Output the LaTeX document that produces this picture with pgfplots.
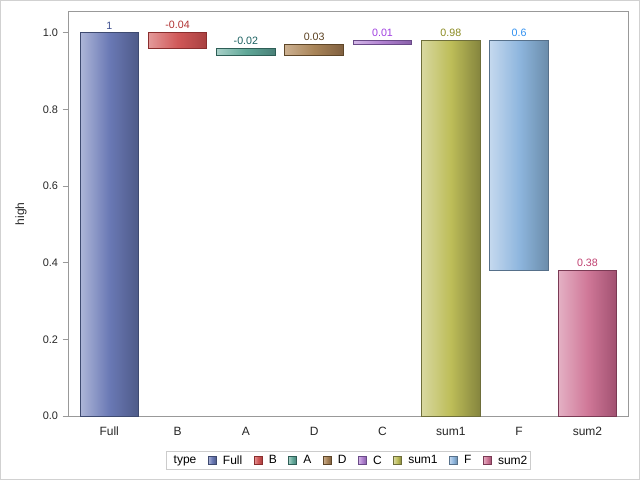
\documentclass[border=0pt]{standalone}
\usepackage{pgfplots}
\pgfplotsset{compat=1.18}
\usepackage{fontspec}
\setmainfont{Liberation Sans}

\definecolor{fullE}{HTML}{3E4A70}\definecolor{fullL}{HTML}{AEB6D8}\definecolor{fullM}{HTML}{6A79B5}\definecolor{fullR}{HTML}{4E5A88}\definecolor{fullT}{HTML}{3D4F8F}
\definecolor{bE}{HTML}{8A2E2E}\definecolor{bL}{HTML}{E39A9A}\definecolor{bM}{HTML}{D05858}\definecolor{bR}{HTML}{A84040}\definecolor{bT}{HTML}{B03030}
\definecolor{aE}{HTML}{2E5E56}\definecolor{aL}{HTML}{A8D0C8}\definecolor{aM}{HTML}{60A898}\definecolor{aR}{HTML}{4A8078}\definecolor{aT}{HTML}{1A6060}
\definecolor{dE}{HTML}{5E4628}\definecolor{dL}{HTML}{CCB090}\definecolor{dM}{HTML}{A88458}\definecolor{dR}{HTML}{806040}\definecolor{dT}{HTML}{5A4020}
\definecolor{cE}{HTML}{6A4A88}\definecolor{cL}{HTML}{D4B8E8}\definecolor{cM}{HTML}{B080D0}\definecolor{cR}{HTML}{8860A8}\definecolor{cT}{HTML}{A040E0}
\definecolor{sE}{HTML}{6E6E3A}\definecolor{sL}{HTML}{D8D8A0}\definecolor{sM}{HTML}{BDBD58}\definecolor{sR}{HTML}{85853E}\definecolor{sT}{HTML}{8A8A20}
\definecolor{fE}{HTML}{56708A}\definecolor{fL}{HTML}{C4D8EE}\definecolor{fM}{HTML}{8EB6DE}\definecolor{fR}{HTML}{6A8CAA}\definecolor{fT}{HTML}{3090F0}
\definecolor{tE}{HTML}{7A3A54}\definecolor{tL}{HTML}{E4B0C4}\definecolor{tM}{HTML}{D07898}\definecolor{tR}{HTML}{A05070}\definecolor{tT}{HTML}{C04070}

\pgfplotsset{
  wbar/.style={draw=#1E, line width=0.75pt, left color=#1L, right color=#1R, middle color=#1M,
    legend image code/.code={\draw[##1, line width=0.5pt] (0pt,-2.4pt) rectangle (6pt,3.6pt);}},
  wlab/.style={forget plot, draw=none, mark=none, nodes near coords, point meta=explicit symbolic,
    nodes near coords style={text=#1T, font=\fontsize{8}{9}\selectfont, anchor=south, inner sep=2.5pt}},
}

\begin{document}
\begin{tikzpicture}
\path[use as bounding box] (-51.5pt,-47.85pt) rectangle (428.5pt,312.15pt);
\draw[black!18, line width=0.75pt] (-51.125pt,-47.475pt) rectangle (428.125pt,311.775pt);
\begin{axis}[
  at={(0pt,0pt)}, anchor=south west,
  scale only axis, width=420pt, height=303.7pt,
  xmin=-0.594, xmax=7.603, ymin=0, ymax=1.0558,
  xtick={0,1,2,3,4,5,6,7},
  xticklabels={Full,B,A,D,C,sum1,F,sum2},
  ytick={0,0.2,0.4,0.6,0.8,1.0},
  /pgf/number format/assume math mode=true,
  xticklabel style={font=\fontsize{9}{10}\selectfont, text=black!85, anchor=north,
    text height=6.6pt, text depth=1.9pt, inner sep=0pt, yshift=-3.5pt},
  yticklabel style={font=\fontsize{8.2}{10}\selectfont, text=black!85,
    /pgf/number format/.cd, fixed, fixed zerofill, precision=1},
  xtick style={draw=none},
  ytick style={color=black!40, line width=0.75pt},
  tick align=outside, major tick length=4.5pt, ytick pos=left,
  axis line style={color=black!40, line width=0.75pt},
  ylabel={high},
  every axis y label/.style={at={(axis description cs:-0.085,0.5)}, rotate=90, anchor=center,
    font=\fontsize{9}{10}\selectfont, text=black!85},
  legend columns=9,
  legend style={at={(0.5,-0.0865)}, anchor=north, draw=black!20, line width=0.75pt,
    font=\fontsize{9}{10}\selectfont, inner xsep=0.5pt, inner ysep=0.8pt,
    /tikz/every even column/.style={column sep=6.6pt},
    /tikz/every odd column/.style={column sep=2.8pt}},
  clip=false,
]
\addlegendimage{empty legend}\addlegendentry{type\hspace{11pt}}
% Full: 0 -> 1
\addplot[wbar=full] coordinates {(-0.428,0) (0.428,0) (0.428,1) (-0.428,1)} -- cycle;
\addlegendentry{Full}
% B: 1 -> 0.96
\addplot[wbar=b] coordinates {(0.572,0.96) (1.428,0.96) (1.428,1) (0.572,1)} -- cycle;
\addlegendentry{B}
% A: 0.96 -> 0.94
\addplot[wbar=a] coordinates {(1.572,0.94) (2.428,0.94) (2.428,0.96) (1.572,0.96)} -- cycle;
\addlegendentry{A}
% D: 0.94 -> 0.97
\addplot[wbar=d] coordinates {(2.572,0.94) (3.428,0.94) (3.428,0.97) (2.572,0.97)} -- cycle;
\addlegendentry{D}
% C: 0.97 -> 0.98
\addplot[wbar=c] coordinates {(3.572,0.97) (4.428,0.97) (4.428,0.98) (3.572,0.98)} -- cycle;
\addlegendentry{C}
% sum1: 0 -> 0.98
\addplot[wbar=s] coordinates {(4.572,0) (5.428,0) (5.428,0.98) (4.572,0.98)} -- cycle;
\addlegendentry{sum1}
% F: 0.98 -> 0.38
\addplot[wbar=f] coordinates {(5.572,0.38) (6.428,0.38) (6.428,0.98) (5.572,0.98)} -- cycle;
\addlegendentry{F}
% sum2: 0 -> 0.38
\addplot[wbar=t] coordinates {(6.572,0) (7.428,0) (7.428,0.38) (6.572,0.38)} -- cycle;
\addlegendentry{sum2}

\addplot[wlab=full] coordinates {(0,1) [1]};
\addplot[wlab=b] coordinates {(1,1) [-0.04]};
\addplot[wlab=a] coordinates {(2,0.96) [-0.02]};
\addplot[wlab=d] coordinates {(3,0.97) [0.03]};
\addplot[wlab=c] coordinates {(4,0.98) [0.01]};
\addplot[wlab=s] coordinates {(5,0.98) [0.98]};
\addplot[wlab=f] coordinates {(6,0.98) [0.6]};
\addplot[wlab=t] coordinates {(7,0.38) [0.38]};
\end{axis}
\end{tikzpicture}
\end{document}
